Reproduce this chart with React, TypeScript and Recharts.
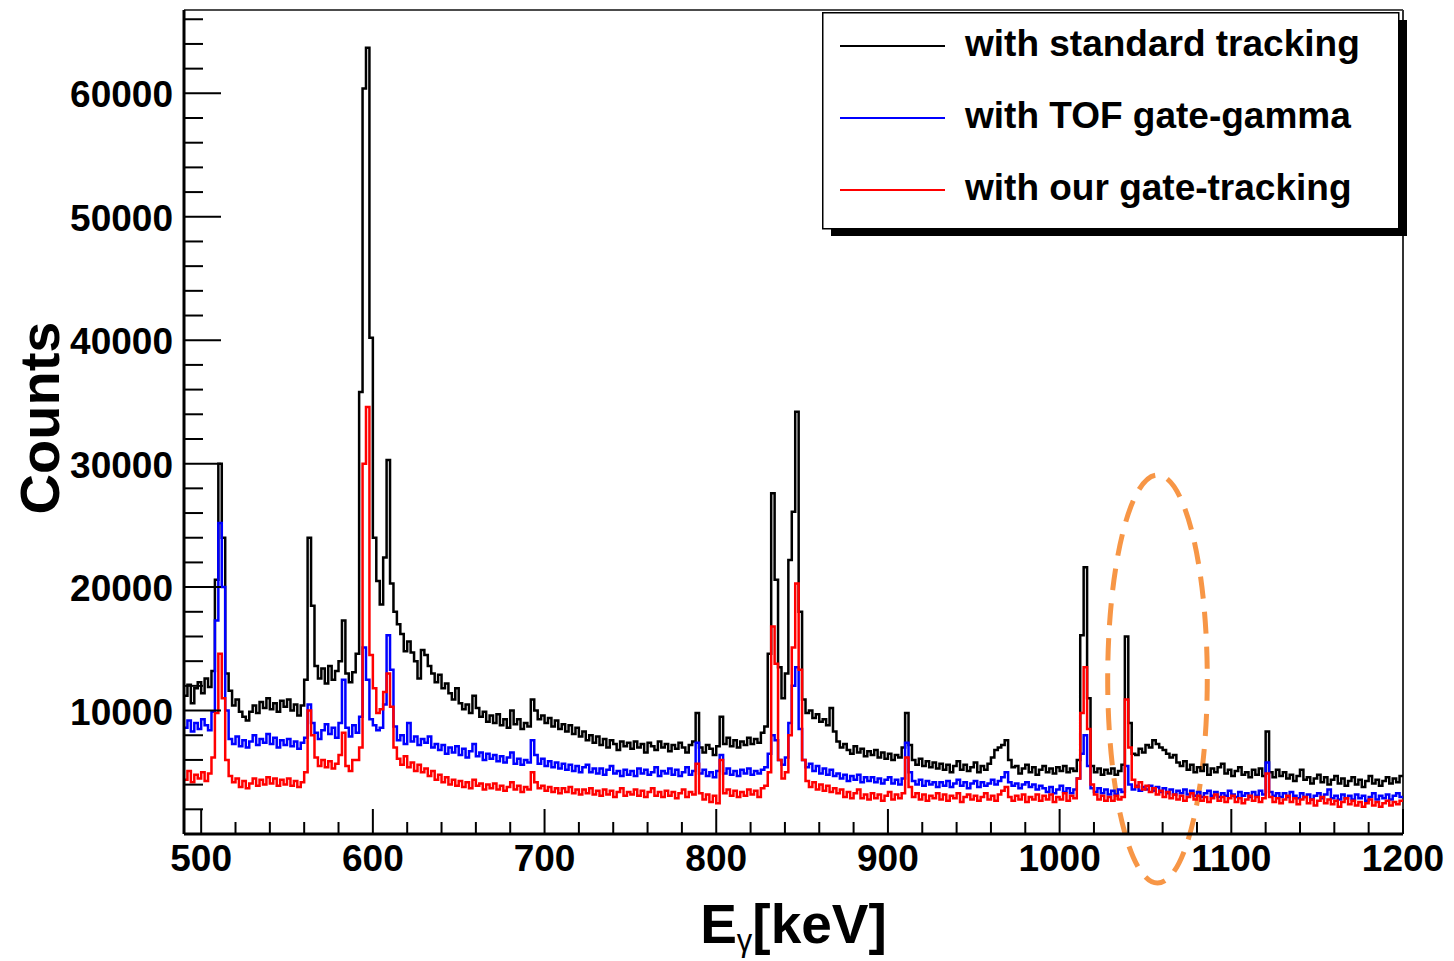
import React from 'react';
import { LineChart, Line, XAxis, YAxis, Legend, ReferenceLine, ReferenceArea, Label } from 'recharts';

// Histogram binning (keV)
const BIN_START = 490;
const BIN_WIDTH = 2;
const X_DOMAIN: [number, number] = [490, 1200];
const Y_DOMAIN: [number, number] = [0, 66750];
const X_LABEL_TICKS = [500, 600, 700, 800, 900, 1000, 1100, 1200];
const Y_LABEL_TICKS = [10000, 20000, 30000, 40000, 50000, 60000];
const X_MINOR_STEP = 20;
const Y_MINOR_STEP = 2000;

const SERIES_NAMES = ['with standard tracking', 'with TOF gate-gamma', 'with our gate-tracking'];
const SERIES_COLORS = ['#000000', '#0000ff', '#ff0000'];

// Counts per 2 keV bin, starting at 490 keV (rows of 10 bins = 20 keV)
const standardTracking = [
  11200, 12100, 10600, 11800, 12300, 11400, 12600, 11900, 13200, 20600, // 490
  30000, 24000, 13000, 11600, 10400, 10900, 9900, 9500, 9200, 9900, // 510
  10400, 9800, 10700, 10200, 11000, 10100, 10600, 9900, 10800, 10300, // 530
  10900, 10000, 10500, 9600, 10400, 12500, 24000, 18500, 13600, 12600, // 550
  13400, 12200, 13600, 12500, 13200, 14000, 17300, 13000, 12300, 13100, // 570
  14600, 35800, 60400, 63700, 40200, 24000, 20500, 18600, 22400, 30300, // 590
  20300, 18000, 17000, 16200, 14800, 15600, 14700, 14000, 12600, 14900, // 610
  14500, 13600, 13000, 12300, 12900, 11800, 12200, 11400, 10900, 11800, // 630
  10600, 10100, 10500, 9800, 11200, 10200, 9500, 9900, 9100, 9600, // 650
  9000, 9700, 8800, 9300, 8600, 10000, 8900, 9300, 8500, 9000, // 670
  8700, 10900, 10000, 9300, 9600, 9000, 9400, 8700, 9200, 8500, // 690
  8900, 8300, 8800, 8100, 8600, 7900, 8300, 7600, 8000, 7400, // 710
  7900, 7200, 7700, 7000, 7600, 7300, 6800, 7500, 7100, 7400, // 730
  6900, 7500, 7000, 7300, 6600, 7400, 7100, 6800, 7500, 7000, // 750
  7300, 6700, 7200, 6900, 7400, 7000, 6600, 7200, 7500, 9800, // 770
  7000, 6600, 7200, 6900, 6400, 7100, 9500, 7300, 7800, 7100, // 790
  7600, 7000, 7500, 7200, 7800, 7300, 7700, 7400, 8200, 8700, // 810
  14600, 27600, 20600, 13500, 11000, 13000, 22200, 26100, 34200, 18000, // 830
  10900, 9800, 10000, 9400, 9700, 9100, 9300, 8800, 10200, 8300, // 850
  7500, 7000, 7300, 6800, 6500, 7100, 6600, 6900, 6300, 6700, // 870
  6400, 6800, 6200, 6600, 6100, 6500, 6000, 6400, 6200, 7000, // 890
  9800, 7200, 6000, 5600, 6100, 5500, 5900, 5400, 5800, 5300, // 910
  5700, 5200, 5600, 5000, 5500, 5900, 5200, 5600, 5100, 5400, // 930
  5800, 5000, 5500, 5200, 5700, 6200, 6800, 7000, 7200, 7600, // 950
  6000, 5400, 5500, 4900, 5300, 5600, 5000, 5400, 4800, 5200, // 970
  5500, 5000, 5300, 4900, 5400, 5100, 5500, 5000, 5300, 5100, // 990
  6000, 16100, 21600, 11000, 5500, 5000, 5300, 4800, 5200, 4900, // 1010
  5300, 4800, 5100, 5600, 16000, 9000, 6500, 6400, 6900, 6600, // 1030
  7200, 7000, 7600, 7300, 7000, 6800, 6500, 6200, 6400, 5800, // 1050
  5500, 5900, 5200, 5600, 5000, 5400, 5100, 5600, 4800, 5300, // 1070
  5000, 5400, 5700, 4900, 5200, 4700, 5100, 5400, 4800, 5000, // 1090
  4600, 5200, 4800, 5300, 4700, 8300, 5000, 4600, 5200, 4700, // 1110
  5000, 4500, 4800, 4300, 4700, 5200, 4400, 4600, 4100, 4500, // 1130
  4800, 4200, 4600, 4000, 4400, 4700, 4100, 4500, 3900, 4300, // 1150
  4600, 4000, 4400, 3800, 4300, 4700, 4100, 4400, 3900, 4300, // 1170
  4600, 4100, 4500, 4200, 4700, // 1190
];

const tofGateGamma = [
  8600, 9200, 8300, 9000, 8500, 9300, 8800, 8400, 9900, 17300, // 490
  25200, 20000, 10000, 7700, 7300, 7900, 7100, 7600, 7000, 7500, // 510
  8000, 7200, 7700, 7400, 8100, 7300, 7800, 7000, 7600, 7200, // 530
  7700, 7100, 7500, 6900, 7400, 7800, 10500, 9000, 8200, 7700, // 550
  8400, 8900, 8100, 8600, 7800, 9000, 12500, 8600, 7900, 8800, // 570
  8200, 9500, 15100, 12500, 9300, 8800, 8400, 8600, 10500, 16100, // 590
  13300, 8700, 7600, 8000, 7300, 9000, 7500, 7900, 7200, 7700, // 610
  7400, 7900, 7000, 7300, 6800, 7200, 6500, 7000, 6600, 7100, // 630
  6400, 6900, 6200, 6700, 7300, 6300, 6600, 6000, 6500, 6100, // 650
  6400, 5900, 6300, 5800, 6200, 6600, 5700, 6100, 5600, 6000, // 670
  5800, 7600, 6400, 5700, 6100, 5500, 5900, 5400, 5800, 5300, // 690
  5700, 5200, 5600, 5100, 5500, 5000, 5400, 5600, 5000, 5300, // 710
  4900, 5300, 4800, 5200, 5500, 4900, 5100, 4700, 5200, 4800, // 730
  5100, 4700, 5300, 4900, 5200, 4800, 5000, 5400, 4700, 5100, // 750
  4900, 5300, 4800, 5200, 4700, 5000, 5400, 4800, 5100, 7400, // 770
  4900, 5200, 4700, 5000, 4600, 5100, 6400, 4900, 5300, 4800, // 790
  5100, 4700, 5200, 4900, 5300, 4800, 5100, 4900, 5200, 5400, // 810
  6500, 8000, 7600, 6000, 5600, 6200, 9000, 12000, 13500, 8500, // 830
  6000, 5400, 5700, 5100, 5500, 4900, 5300, 4800, 5200, 4700, // 850
  4900, 4500, 4800, 4300, 4700, 4400, 4800, 4200, 4600, 4300, // 870
  4600, 4200, 4500, 4100, 4400, 4600, 4100, 4400, 4000, 4500, // 890
  7400, 5000, 4300, 4000, 4400, 3900, 4300, 4000, 4200, 3800, // 910
  4200, 3900, 4300, 3800, 4100, 4400, 3900, 4200, 3700, 4100, // 930
  4300, 3800, 4200, 3900, 4100, 4400, 4000, 4300, 4600, 5000, // 950
  4200, 3900, 4100, 3700, 4000, 4200, 3800, 4000, 3600, 3900, // 970
  3700, 3400, 3800, 3300, 3600, 3900, 3400, 3700, 3300, 3600, // 990
  4500, 6500, 8000, 5500, 3700, 3400, 3700, 3300, 3600, 3200, // 1010
  3500, 3200, 3600, 3400, 5500, 4000, 3600, 3900, 3500, 3800, // 1030
  3600, 3900, 3500, 3800, 3400, 3700, 3300, 3600, 3200, 3500, // 1050
  3300, 3600, 3200, 3500, 3100, 3400, 3000, 3300, 3500, 3100, // 1070
  3400, 3000, 3300, 3100, 3500, 3200, 3000, 3400, 3100, 3300, // 1090
  3000, 3400, 3100, 3500, 3200, 5800, 3400, 3100, 3300, 3000, // 1110
  3300, 3000, 3400, 3100, 2900, 3300, 3000, 3200, 2800, 3100, // 1130
  3300, 2900, 3200, 3600, 2900, 3100, 2800, 3200, 2900, 3100, // 1150
  2800, 3200, 2900, 3100, 2700, 3000, 3300, 2800, 3100, 2900, // 1170
  3200, 2800, 3100, 3300, 3000, // 1190
];

const ourGateTracking = [
  4400, 5100, 4200, 4800, 4500, 5000, 4300, 4900, 6200, 9800, // 490
  14600, 11000, 6000, 4700, 4200, 4500, 3800, 4300, 3700, 4100, // 510
  4500, 3900, 4400, 4000, 4600, 4100, 4500, 3900, 4400, 4000, // 530
  4500, 3900, 4300, 3800, 4200, 5000, 10000, 8000, 6200, 5500, // 550
  6000, 5400, 5900, 5300, 5700, 6400, 8200, 5500, 5100, 6000, // 570
  6000, 7000, 30000, 34600, 14500, 11800, 9800, 10100, 11500, 13000, // 590
  10300, 7000, 6100, 5600, 6300, 5400, 5800, 5100, 5600, 5000, // 610
  5300, 4700, 5100, 4400, 4800, 4200, 4600, 4000, 4400, 3900, // 630
  4300, 3800, 4200, 3700, 4400, 3900, 4100, 3600, 4000, 3700, // 650
  4100, 3600, 3900, 3500, 3800, 4200, 3600, 3900, 3400, 3800, // 670
  3600, 5000, 4200, 3700, 3900, 3500, 3800, 3400, 3700, 3300, // 690
  3700, 3400, 3800, 3300, 3600, 3200, 3600, 3300, 3700, 3200, // 710
  3500, 3100, 3600, 3200, 3500, 3000, 3400, 3700, 3100, 3400, // 730
  3200, 3600, 3100, 3500, 3000, 3400, 3700, 3100, 3400, 3000, // 750
  3500, 3100, 3400, 2900, 3300, 3600, 3000, 3400, 3200, 5700, // 770
  3300, 2800, 3200, 2600, 3100, 2500, 6000, 3300, 3600, 3100, // 790
  3500, 3000, 3400, 3100, 3600, 3200, 3500, 3000, 3700, 3900, // 810
  5000, 16800, 13800, 6000, 4500, 5000, 8000, 15100, 20300, 13300, // 830
  6000, 4300, 3800, 4200, 3600, 4000, 3500, 3900, 3400, 3700, // 850
  3300, 3600, 3000, 3400, 2900, 3300, 3600, 2900, 3200, 2800, // 870
  3300, 2900, 3200, 2700, 3100, 3400, 2800, 3200, 2900, 3300, // 890
  6200, 3800, 3000, 3300, 2800, 3200, 2700, 3100, 2900, 3300, // 910
  2800, 3200, 2700, 3100, 2900, 3300, 2600, 3000, 3200, 2800, // 930
  3100, 2700, 3000, 3300, 2800, 3100, 2700, 3200, 3500, 3800, // 950
  3000, 2700, 3100, 2800, 3200, 2600, 3000, 2800, 3200, 2700, // 970
  3100, 2800, 3200, 2600, 3000, 2800, 3300, 2700, 3100, 2900, // 990
  4500, 9800, 13500, 8500, 4000, 3200, 2800, 3100, 2700, 3000, // 1010
  2700, 3100, 2800, 3000, 10900, 7000, 4400, 3800, 4200, 3600, // 1030
  3900, 3400, 3700, 3200, 3500, 3000, 3400, 2900, 3200, 2800, // 1050
  3100, 2700, 3000, 3300, 2800, 3100, 2700, 3000, 2600, 2900, // 1070
  3200, 2700, 3000, 2600, 2900, 3100, 2600, 2900, 2500, 2800, // 1090
  3100, 2700, 3000, 2600, 2900, 4900, 3000, 2600, 2900, 2500, // 1110
  2800, 3100, 2600, 2900, 2400, 2800, 3000, 2500, 2800, 2300, // 1130
  2700, 3000, 2500, 2800, 2400, 2700, 2200, 2600, 2900, 2400, // 1150
  2700, 2300, 2600, 2200, 2500, 2800, 2300, 2600, 2200, 2500, // 1170
  2700, 2300, 2600, 2400, 2700, // 1190
];

// Annotation ellipse bounds (keV, counts)
const HIGHLIGHT = { x1: 1028, x2: 1086, y1: -3970, y2: 29080 };

const FONT = "'Liberation Sans', Arial, Helvetica, sans-serif";

// Build histogram table (bin left edges + closing edge)
const seriesList = [standardTracking, tofGateGamma, ourGateTracking];
const data: Array<Record<string, number>> = standardTracking.map((_, i) => ({
  e: BIN_START + i * BIN_WIDTH,
  s0: standardTracking[i],
  s1: tofGateGamma[i],
  s2: ourGateTracking[i],
}));
data.push({
  e: BIN_START + standardTracking.length * BIN_WIDTH,
  s0: standardTracking[standardTracking.length - 1],
  s1: tofGateGamma[tofGateGamma.length - 1],
  s2: ourGateTracking[ourGateTracking.length - 1],
});

const xTicks: number[] = [];
for (let t = X_LABEL_TICKS[0]; t <= X_DOMAIN[1]; t += X_MINOR_STEP) xTicks.push(t);
const yTicks: number[] = [];
for (let t = Y_MINOR_STEP; t <= Y_DOMAIN[1]; t += Y_MINOR_STEP) yTicks.push(t);

const XTick = (props: any) => {
  const { x, y, payload } = props;
  const major = X_LABEL_TICKS.includes(payload.value);
  return (
    <g>
      <line x1={x} x2={x} y1={y} y2={y - (major ? 25 : 12)} stroke="#000" strokeWidth={2} />
      {major && (
        <text x={x} y={y + 37} textAnchor="middle" fontFamily={FONT} fontWeight="bold" fontSize={37} fill="#000">
          {payload.value}
        </text>
      )}
    </g>
  );
};

const YTick = (props: any) => {
  const { x, y, payload } = props;
  const major = Y_LABEL_TICKS.includes(payload.value);
  return (
    <g>
      <line x1={x} x2={x + (major ? 37 : 19)} y1={y} y2={y} stroke="#000" strokeWidth={2} />
      {major && (
        <text x={x - 11} y={y + 14} textAnchor="end" fontFamily={FONT} fontWeight="bold" fontSize={37} fill="#000">
          {payload.value}
        </text>
      )}
    </g>
  );
};

const XTitle = (props: any) => {
  const vb = props.viewBox || { x: 184, width: 1219, y: 834 };
  const cx = vb.x + vb.width / 2;
  return (
    <text x={cx} y={943} textAnchor="middle" fontFamily={FONT} fontWeight="bold" fontSize={55} fill="#000">
      E
      <tspan fontSize={31} fontWeight="normal" dy={8}>γ</tspan>
      <tspan fontSize={55} dy={-8}>[keV]</tspan>
    </text>
  );
};

const YTitle = () => (
  <text
    x={59}
    y={418}
    transform="rotate(-90, 59, 418)"
    textAnchor="middle"
    fontFamily={FONT}
    fontWeight="bold"
    fontSize={56}
    fill="#000"
  >
    Counts
  </text>
);

const LegendBox = (props: any) => {
  const payload = [...(props.payload || [])].sort((a: any, b: any) =>
    String(a.dataKey).localeCompare(String(b.dataKey))
  );
  return (
    <svg width={600} height={240} style={{ display: 'block', overflow: 'visible' }}>
      <rect x={9} y={8} width={576} height={216} fill="#000" />
      <rect x={0.75} y={0.75} width={576} height={216} fill="#fff" stroke="#000" strokeWidth={1.5} />
      {payload.map((entry: any, i: number) => (
        <g key={i}>
          <line x1={18} x2={123} y1={34 + 72 * i} y2={34 + 72 * i} stroke={entry.color} strokeWidth={2} />
          <text x={143} y={44 + 72 * i} fontFamily={FONT} fontWeight="bold" fontSize={37} fill="#000">
            {entry.value}
          </text>
        </g>
      ))}
    </svg>
  );
};

const EllipseShape = (p: any) => (
  <ellipse
    cx={p.x + p.width / 2}
    cy={p.y + p.height / 2}
    rx={Math.abs(p.width) / 2}
    ry={Math.abs(p.height) / 2}
    fill="none"
    stroke="#F79646"
    strokeWidth={5}
    strokeDasharray="22 13"
  />
);

export default function App() {
  return (
    <div style={{ position: 'absolute', left: 0, top: 0, width: 1454, height: 961, background: '#fff' }}>
      <LineChart width={1454} height={961} data={data} margin={{ top: 10, right: 51, bottom: 0, left: 0 }}>
        <XAxis
          dataKey="e"
          type="number"
          domain={X_DOMAIN}
          ticks={xTicks}
          interval={0}
          allowDataOverflow
          height={127}
          tickSize={0}
          tickMargin={0}
          tickLine={false}
          tick={<XTick />}
          axisLine={{ stroke: '#000', strokeWidth: 3 }}
        >
          <Label content={<XTitle />} />
        </XAxis>
        <YAxis
          type="number"
          domain={Y_DOMAIN}
          ticks={yTicks}
          interval={0}
          allowDataOverflow
          width={184}
          tickSize={0}
          tickMargin={0}
          tickLine={false}
          tick={<YTick />}
          axisLine={{ stroke: '#000', strokeWidth: 3 }}
        >
          <Label content={<YTitle />} />
        </YAxis>
        <ReferenceLine y={Y_DOMAIN[1]} stroke="#111" strokeWidth={1.5} ifOverflow="visible" />
        <ReferenceLine x={X_DOMAIN[1]} stroke="#333" strokeWidth={2} ifOverflow="visible" />
        {seriesList.map((_, k) => (
          <Line
            key={k}
            dataKey={`s${k}`}
            name={SERIES_NAMES[k]}
            type="stepAfter"
            stroke={SERIES_COLORS[k]}
            strokeWidth={2.5}
            dot={false}
            activeDot={false}
            legendType="line"
            isAnimationActive={false}
          />
        ))}
        <ReferenceArea
          x1={HIGHLIGHT.x1}
          x2={HIGHLIGHT.x2}
          y1={HIGHLIGHT.y1}
          y2={HIGHLIGHT.y2}
          ifOverflow="visible"
          shape={<EllipseShape />}
        />
        <Legend
          layout="vertical"
          align="center"
          verticalAlign="middle"
          wrapperStyle={{ left: 822, top: 12, width: 600, height: 240 }}
          content={<LegendBox />}
        />
      </LineChart>
    </div>
  );
}
